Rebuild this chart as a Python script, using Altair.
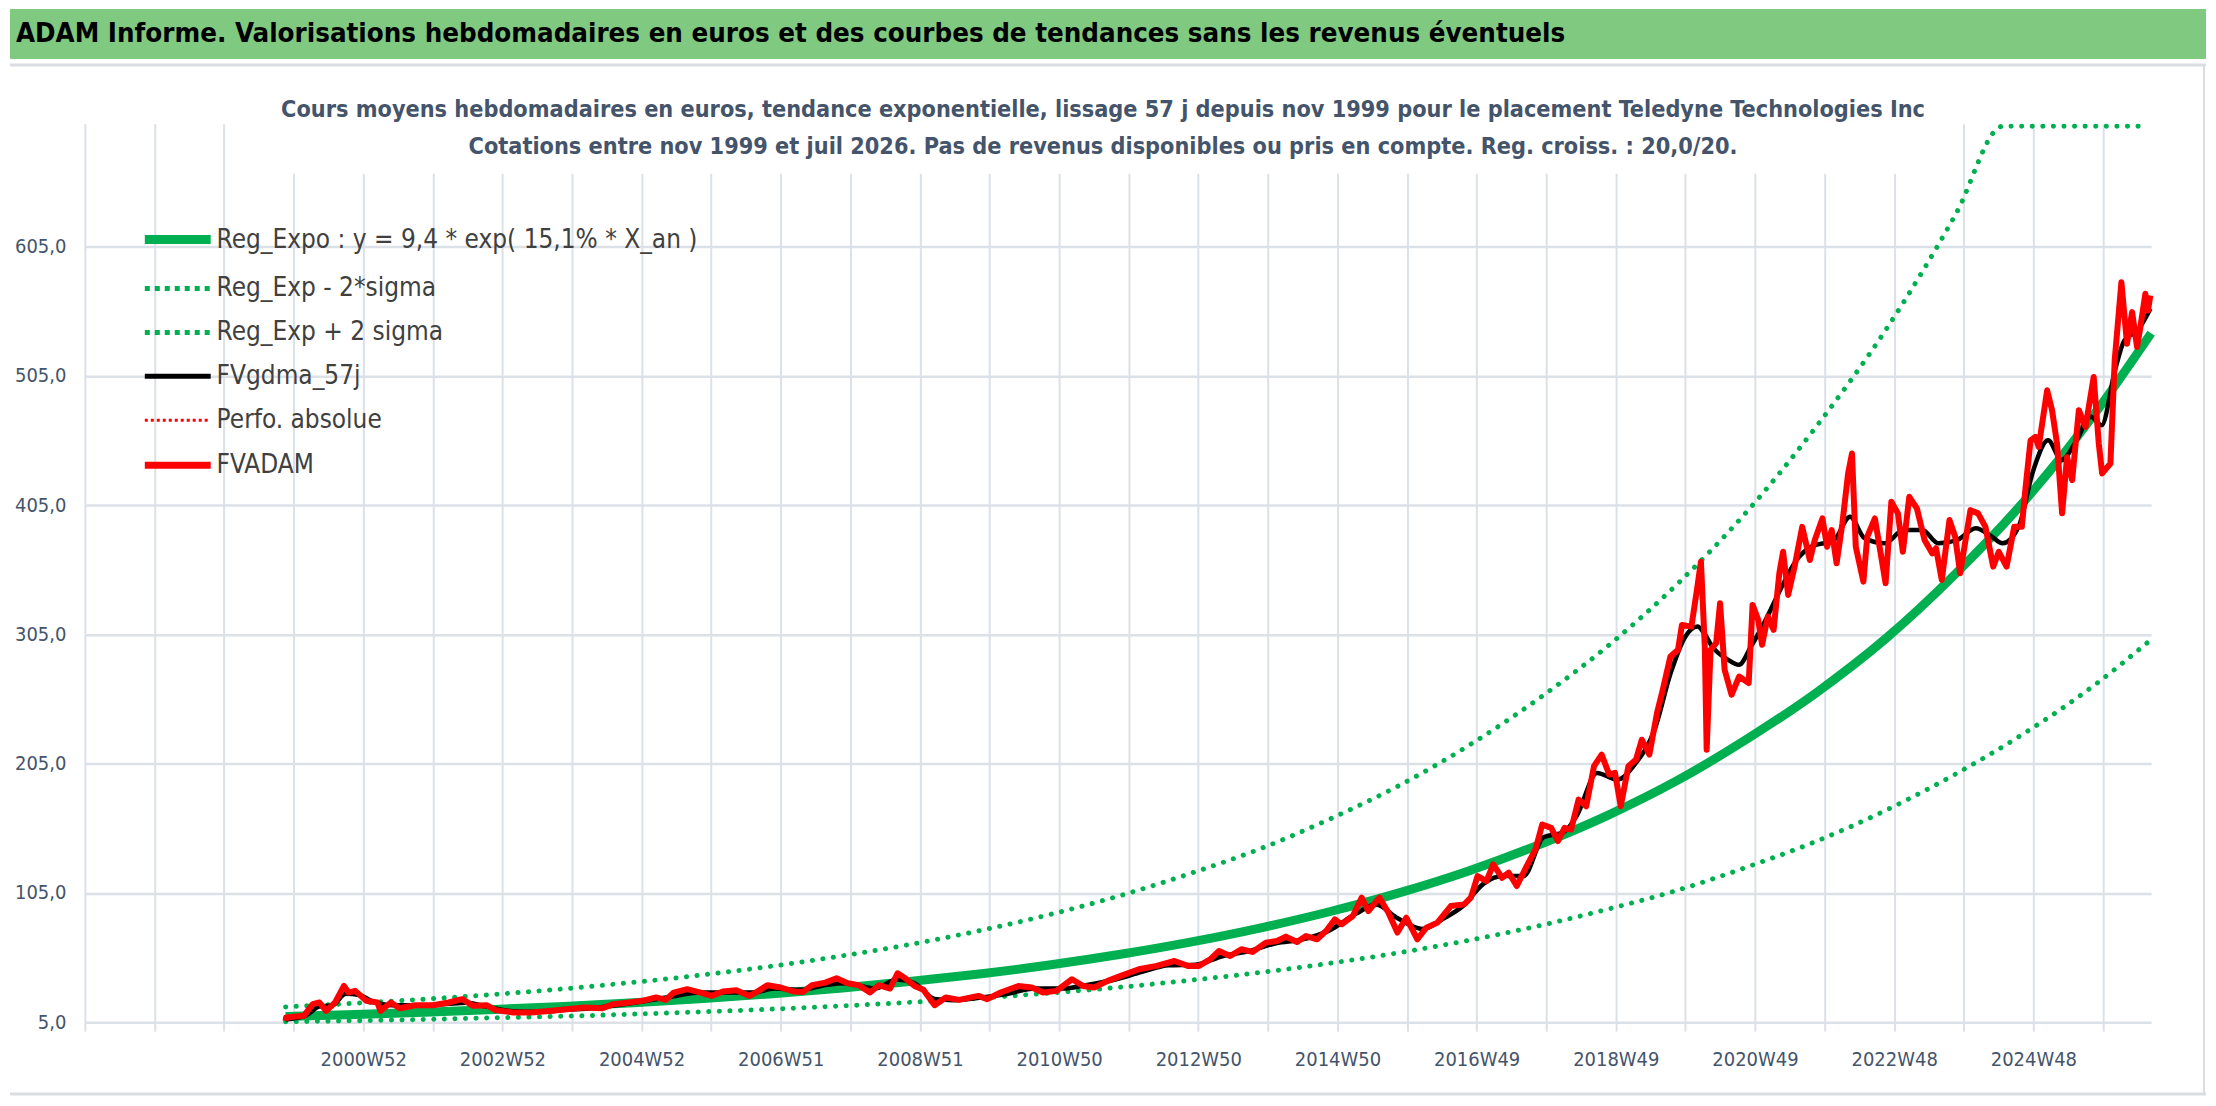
import altair as alt
import pandas as pd

FONT = "Liberation Sans Narrow, DejaVu Sans Condensed, Arial Narrow, sans-serif"
TXT = "#44546A"
GRID = "#DCE0E7"

banner_title = "ADAM Informe. Valorisations hebdomadaires en euros et des courbes de tendances sans les revenus éventuels"
subtitle_1 = "Cours moyens hebdomadaires en euros, tendance exponentielle, lissage 57 j depuis nov 1999 pour le placement Teledyne Technologies Inc"
subtitle_2 = "Cotations entre nov 1999 et juil 2026. Pas de revenus disponibles ou pris en compte. Reg. croiss. : 20,0/20."

series_names = [
    "Reg_Expo : y = 9,4 * exp( 15,1% *  X_an )",
    "Reg_Exp - 2*sigma",
    "Reg_Exp + 2 sigma",
    "FVgdma_57j",
    "Perfo. absolue",
    "FVADAM",
]
series_colors = ["#00B050", "#00B050", "#00B050", "#000000", "#FF0000", "#FF0000"]
legend_widths = [9, 5, 5, 5, 3, 7]

# x axis: week index, one gridline every 52 weeks, a label every 104 weeks
tick_weeks = [0, 52, 104, 156, 208, 260, 312, 364, 416, 468, 520, 572, 624, 676, 728,
              780, 832, 884, 936, 988, 1040, 1092, 1144, 1196, 1248, 1300, 1352, 1404, 1456, 1508]
label_weeks = [208, 312, 416, 520, 624, 728, 832, 936, 1040, 1144, 1248, 1352, 1456]
label_texts = ["2000W52", "2002W52", "2004W52", "2006W51", "2008W51", "2010W50", "2012W50",
               "2014W50", "2016W49", "2018W49", "2020W49", "2022W48", "2024W48"]
y_ticks = [5, 105, 205, 305, 405, 505, 605]

# trend and bands
trend_weeks = [150, 202, 254, 306, 358, 410, 462, 514, 566, 618, 670, 722, 774, 826, 878, 930,
               982, 1034, 1086, 1138, 1190, 1242, 1294, 1346, 1398, 1450, 1502, 1544]
trend_vals = [9.4, 10.9, 12.7, 14.8, 17.2, 20.0, 23.2, 27.0, 31.4, 36.6, 42.5, 49.4, 57.5, 66.9,
              77.8, 90.4, 105, 122, 142, 165, 192, 224, 260, 302, 352, 409, 476, 538]
lower_vals = [5.3, 6.1, 7.1, 8.3, 9.6, 11.2, 13.0, 15.1, 17.6, 20.4, 23.7, 27.6, 32.1, 37.4,
              43.4, 50.5, 58.7, 68.3, 79.4, 92.4, 107, 125, 145, 169, 197, 229, 266, 301]
upper_weeks = [150, 202, 254, 306, 358, 410, 462, 514, 566, 618, 670, 722, 774, 826, 878, 930,
               982, 1034, 1086, 1138, 1190, 1242, 1294, 1346, 1398, 1433, 1450, 1502, 1540]
upper_vals = [16.8, 19.6, 22.8, 26.5, 30.8, 35.8, 41.6, 48.4, 56.3, 65.4, 76.1, 88.5, 103, 120,
              139, 162, 188, 219, 255, 296, 344, 400, 466, 541, 630, 698, 698, 698, 698]

# FVADAM weekly price
red_weeks = [150, 150.3, 163.6, 170.3, 175.3, 180.3, 187, 193.6, 197, 202, 210.3, 218.6, 220.9,
             228.6, 235.3, 246.9, 260.2, 271.9, 281.9, 290.2, 300.2, 306.9, 320.2, 333.5, 346.9,
             360.2, 373.5, 386.8, 395.1, 406.8, 416.8, 426.8, 434.1, 440.1, 450.1, 460.1, 468.4,
             476.8, 486.8, 496.7, 503.4, 510, 520, 530, 536.7, 543.4, 553.3, 561.7, 570, 578.3,
             586.7, 593.3, 601.7, 607.3, 613.3, 620, 626.6, 635, 643.3, 653.3, 667.7, 674.3,
             684.3, 697.6, 707.6, 716, 726, 737.6, 746, 754.2, 764.3, 774.2, 787.6, 800.9, 814.2,
             824.2, 832.5, 840.9, 847.5, 855.8, 864.2, 872.5, 882.5, 890.8, 897.5, 905.8, 912.5,
             920.8, 927.5, 934.1, 939.1, 947.5, 954.1, 959.1, 967.4, 974.1, 980.8, 987.4, 995.7,
             1002.4, 1010.7, 1020.7, 1030.7, 1035.7, 1040.7, 1047.4, 1052.4, 1059, 1064, 1070,
             1077.4, 1084, 1089, 1095.7, 1100.7, 1105.7, 1110.6, 1116.2, 1121.9, 1127.7, 1133.4,
             1139.1, 1143.4, 1147.7, 1153.4, 1159.1, 1163.4, 1169.1, 1174.8, 1179.1, 1184.8,
             1190.5, 1193.4, 1200.5, 1204.8, 1207.6, 1210.5, 1211.9, 1214.8, 1219, 1221.9,
             1225.3, 1230.5, 1236.2, 1243.3, 1246.2, 1250.4, 1253.3, 1257.6, 1261.9, 1266.2,
             1269, 1272.8, 1277.6, 1283.3, 1289, 1292.7, 1298.4, 1301.9, 1305.3, 1309, 1313.3,
             1317.6, 1320.5, 1323.3, 1329, 1331.9, 1337.6, 1341.9, 1345.6, 1349.9, 1354.8,
             1358.5, 1363.3, 1369, 1374.7, 1380.4, 1383.3, 1387.6, 1393.3, 1397.6, 1401.3, 1409,
             1414.7, 1420.2, 1426, 1430.2, 1436, 1441.7, 1447.4, 1450, 1453.9, 1457.5, 1460,
             1466.3, 1470, 1473.7, 1477.5, 1481.2, 1485, 1490, 1495, 1501.1, 1504.9, 1507.4,
             1513.6, 1516.8, 1521.8, 1526, 1529.8, 1533.5, 1536, 1539.7, 1541.7, 1543.4]
red_vals = [6.0, 8.6, 9.9, 18.9, 20.2, 13.7, 20.2, 33.0, 27.9, 29.2, 21.5, 20.2, 13.7, 20.2, 15.8,
            18.1, 18.1, 20.2, 22.8, 17.6, 18.1, 14.3, 12.5, 12.5, 13.7, 15.0, 16.3, 15.8, 18.9,
            20.2, 21.5, 24.1, 22.2, 27.9, 30.5, 27.9, 25.3, 28.7, 29.7, 25.3, 29.2, 33.6, 31.8,
            28.7, 28.4, 33.6, 35.6, 39.0, 35.1, 33.6, 27.9, 33.6, 31.0, 42.8, 38.7, 33.0, 30.0,
            18.1, 24.1, 22.2, 25.3, 22.8, 27.9, 33.0, 31.8, 27.9, 29.2, 38.2, 33.0, 31.8, 36.9,
            40.8, 45.9, 48.5, 52.3, 48.5, 48.5, 53.6, 60.1, 56.2, 61.4, 59.3, 66.5, 67.8, 71.2,
            67.0, 71.6, 69.1, 75.5, 84.5, 80.7, 87.1, 101.3, 90.9, 101.3, 89.7, 74.3, 85.8, 69.1,
            78.1, 82.0, 94.8, 96.1, 101.3, 118.0, 114.1, 127.0, 116.7, 120.6, 110.3, 125.7,
            138.6, 157.9, 155.3, 145.0, 155.3, 154.0, 177.2, 172.0, 203.0, 212.0, 196.5, 197.8,
            172.0, 203.0, 208.1, 223.5, 212.0, 244.2, 262.1, 287.9, 293.0, 312.3, 311.0, 340.7,
            361.2, 295.6, 215.8, 293.0, 298.2, 329.1, 277.6, 258.3, 272.4, 267.3, 327.8, 316.2,
            296.9, 318.8, 308.5, 352.3, 368.9, 335.5, 357.4, 388.2, 362.5, 378.0, 394.7, 372.8,
            385.7, 360.0, 390.9, 429.5, 444.9, 372.8, 345.8, 380.5, 394.7, 367.7, 344.5, 407.6,
            398.6, 368.9, 411.4, 402.4, 378.0, 367.7, 371.6, 347.1, 393.4, 380.5, 352.3, 401.1,
            398.6, 388.2, 357.4, 368.9, 357.4, 388.2, 388.2, 416.6, 455.0, 457.8, 450.0, 493.8,
            478.4, 452.6, 398.6, 442.3, 424.3, 478.4, 465.5, 504.1, 452.6, 429.5, 437.2, 517.0,
            577.4, 529.9, 554.3, 527.3, 542.7, 568.5, 555.6, 567.2]

# FVgdma_57j smoothed price
black_weeks = [150, 165, 175, 185, 195, 205, 215, 230, 250, 270, 285, 300, 320, 340, 360, 380,
               400, 420, 440, 460, 480, 500, 515, 535, 555, 570, 590, 607, 620, 635, 650, 670,
               690, 710, 730, 750, 770, 790, 810, 830, 850, 870, 890, 910, 930, 950, 965, 980,
               1000, 1015, 1030, 1045, 1060, 1075, 1090, 1105, 1115, 1130, 1145, 1159, 1173,
               1185, 1196, 1205, 1210, 1216, 1228, 1236, 1245, 1256, 1268, 1279, 1290, 1307,
               1319, 1330, 1345, 1359, 1373, 1385, 1399, 1413, 1425, 1433, 1445, 1456, 1467,
               1477, 1487, 1499, 1507, 1517, 1524, 1534, 1543.5]
black_vals = [7, 10, 17, 18, 27, 26, 21, 18, 18, 19, 20, 17, 13.5, 13, 14.5, 16, 18.5, 21.5, 25,
              28, 28, 28, 31, 30, 34, 35, 31, 38, 35, 23, 22, 24, 27, 31, 31, 34, 38, 44, 49,
              49.5, 56, 60, 66, 69, 76, 89, 96, 86, 77, 85, 95, 112, 118, 118, 148, 152, 165,
              197.8, 192.6, 205.5, 231.3, 275, 303.3, 311, 305.9, 295.6, 285.3, 281.4, 295.6,
              316.2, 341.9, 362.5, 372.8, 377.9, 396, 379.3, 375.4, 385.7, 385.7, 375.4, 378,
              387, 380.5, 375.4, 388.2, 432, 455.2, 439.8, 452.6, 473.3, 466.8, 509.2, 532.4,
              540.2, 556.9]

label_expr = (
    "indexof(" + str(label_weeks) + ", datum.value) >= 0 ? "
    + str(label_texts) + "[indexof(" + str(label_weeks) + ", datum.value)] : ''"
)
names_js = "[" + ",".join("'" + n + "'" for n in series_names) + "]"
idx_js = "indexof(" + names_js + ", datum.value)"
width_expr = "(" + idx_js + " >= 0) ? " + str(legend_widths) + "[" + idx_js + "] : 7"
dash_expr = "(" + idx_js + " >= 0) ? [[1,0],[5,5],[5,5],[1,0],[3,3],[1,0]][" + idx_js + "] : [1,0]"
# legend line sample: a 66 px segment ending 6 px left of the label
legend_symbol_path = "M-2.18,0L-0.18,0"

x_enc = alt.X(
    "semaine:Q",
    title=None,
    scale=alt.Scale(domain=[0, 1544], nice=False, zero=False),
    axis=alt.Axis(
        values=tick_weeks, labelExpr=label_expr, grid=True, gridColor=GRID, gridWidth=2,
        ticks=True, tickSize=9, tickColor=GRID, tickWidth=2, domain=False,
        labelFont=FONT, labelFontSize=20, labelColor=TXT, labelPadding=18,
        labelOverlap=False, labelFlush=False,
    ),
)
y_enc = alt.Y(
    "valeur:Q",
    title=None,
    scale=alt.Scale(domain=[5, 700], nice=False, zero=False),
    axis=alt.Axis(
        values=y_ticks, labelExpr="replace(format(datum.value, '.1f'), '.', ',')",
        grid=True, gridColor=GRID, gridWidth=2.5, ticks=False, tickSize=0, domain=False,
        labelFont=FONT, labelFontSize=20, labelColor=TXT, labelPadding=19,
    ),
)

def frame(weeks, vals):
    return pd.DataFrame({"semaine": weeks, "valeur": vals})

def text_df(t):
    return pd.DataFrame({"t": [t]})

legend_df = pd.DataFrame({"serie": series_names, "semaine": [None] * 6, "valeur": [None] * 6})

# white box behind the subtitle (covers the top of the gridlines, as in the reference)
title_box = alt.Chart(text_df("")).mark_rect(color="white").encode(
    x=alt.value(157), x2=alt.value(1852), y=alt.value(0), y2=alt.value(50)
)

carrier = alt.Chart(legend_df).mark_line().encode(
    x=x_enc, y=y_enc,
    color=alt.Color(
        "serie:N",
        scale=alt.Scale(domain=series_names, range=series_colors),
        legend=alt.Legend(
            title=None, orient="none", legendX=132, legendY=116, padding=0,
            symbolType=legend_symbol_path, symbolSize=4356,
            symbolStrokeWidth={"expr": width_expr}, symbolDash={"expr": dash_expr},
            labelFont=FONT, labelFontSize=26, labelColor="#404040", labelOffset=0,
            labelLimit=0, rowPadding=18,
        ),
    ),
)

dot = dict(strokeDash=[0.1, 10.5], strokeCap="round", strokeWidth=5)
upper = alt.Chart(frame(upper_weeks, upper_vals)).mark_line(color="#00B050", interpolate="monotone", **dot).encode(x=x_enc, y=y_enc)
lower = alt.Chart(frame(trend_weeks, lower_vals)).mark_line(color="#00B050", interpolate="monotone", **dot).encode(x=x_enc, y=y_enc)
trend = alt.Chart(frame(trend_weeks, trend_vals)).mark_line(color="#00B050", strokeWidth=9, interpolate="monotone").encode(x=x_enc, y=y_enc)
black = alt.Chart(frame(black_weeks, black_vals)).mark_line(color="#000000", strokeWidth=4.5, interpolate="monotone").encode(x=x_enc, y=y_enc)
red = alt.Chart(frame(red_weeks, red_vals)).mark_line(color="#FF0000", strokeWidth=6, strokeJoin="round").encode(x=x_enc, y=y_enc)

# green banner with the main title, above the plot, and the light frame lines
banner_box = alt.Chart(text_df("")).mark_rect(color="#80C980").encode(
    x=alt.value(-75), x2=alt.value(2125), y=alt.value(-115), y2=alt.value(-65)
)
frame_top = alt.Chart(text_df("")).mark_rule(color="#DADDE2", strokeWidth=3).encode(
    x=alt.value(-75), x2=alt.value(2125), y=alt.value(-59)
)
frame_bottom = alt.Chart(text_df("")).mark_rule(color="#DADDE2", strokeWidth=3).encode(
    x=alt.value(-75), x2=alt.value(2125), y=alt.value(972)
)
frame_right = alt.Chart(text_df("")).mark_rule(color="#DADDE2", strokeWidth=2).encode(
    x=alt.value(2123), y=alt.value(-59), y2=alt.value(972)
)
banner_text = alt.Chart(text_df(banner_title)).mark_text(
    align="left", baseline="middle", fontSize=27.5, font=FONT, fontWeight="bold", color="#000000"
).encode(text="t:N", x=alt.value(-69), y=alt.value(-90))

sub1 = alt.Chart(text_df(subtitle_1)).mark_text(
    align="center", baseline="middle", fontSize=23.3, font=FONT, fontWeight="bold", color=TXT
).encode(text="t:N", x=alt.value(1020), y=alt.value(-14))
sub2 = alt.Chart(text_df(subtitle_2)).mark_text(
    align="center", baseline="middle", fontSize=23.3, font=FONT, fontWeight="bold", color=TXT
).encode(text="t:N", x=alt.value(1020), y=alt.value(23))

chart = alt.layer(
    title_box, carrier, upper, lower, trend, black, red,
    banner_box, frame_top, frame_bottom, frame_right, banner_text, sub1, sub2
).properties(
    width=2070, height=900, padding=0, background="white"
).configure_view(stroke="transparent")

chart.save("out.html", embed_options={"renderer": "svg", "actions": False})
